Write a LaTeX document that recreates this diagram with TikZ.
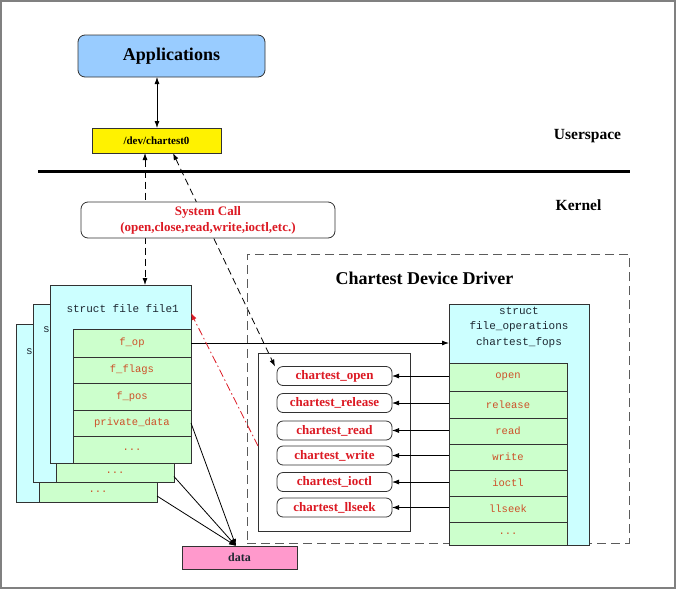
\documentclass[tikz,border=0pt]{standalone}
\usepackage{fontspec}
\setmainfont{Liberation Serif}
\setmonofont{Liberation Mono}
\usetikzlibrary{arrows.meta,calc}
\pgfdeclarelayer{bg}
\pgfsetlayers{bg,main}
\definecolor{appblue}{RGB}{153,204,255}
\definecolor{cyanbox}{RGB}{204,255,255}
\definecolor{greenbox}{RGB}{204,255,204}
\definecolor{pinkbox}{RGB}{255,153,204}
\definecolor{redtxt}{RGB}{220,25,35}
\definecolor{fieldtxt}{RGB}{205,80,40}
\definecolor{monotxt}{RGB}{30,40,50}
\definecolor{edge}{RGB}{50,50,50}
\begin{document}
\begin{tikzpicture}[x=1pt,y=-1pt,
  box/.style={draw=edge,line width=0.8pt,inner sep=0pt,outer sep=0pt},
  filebox/.style={box,fill=cyanbox,minimum width=141pt,minimum height=178pt},
  field/.style={box,fill=greenbox,minimum width=118pt,font=\ttfamily\fontsize{10.5}{12}\selectfont,text=fieldtxt},
  pill/.style={box,rounded corners=6pt,fill=white,minimum width=115pt,minimum height=19pt,font=\bfseries\fontsize{13}{14}\selectfont,text=redtxt},
  arr/.style={-{Latex[length=7pt,width=5pt]},line width=0.8pt,draw=black},
  darr/.style={{Latex[length=7pt,width=5pt]}-{Latex[length=7pt,width=5pt]},line width=0.8pt,dash pattern=on 7pt off 4pt},
  lbl/.style={font=\bfseries\fontsize{15.5}{16}\selectfont}
]
\useasboundingbox (0,0) rectangle (676,589);
\draw[line width=2pt,gray] (1,1) rectangle (675,588);

% Userspace / kernel separation
\coordinate (hl) at (38,171);
\coordinate (hr) at (630,171);
\draw[line width=3pt] (hl) -- (hr);
\node[lbl] (us) at (587.5,136) {Userspace};
\node[lbl] (kn) at (578.5,205) {Kernel};

% top part
\node[box,rounded corners=7pt,fill=appblue,minimum width=187pt,minimum height=42pt,font=\bfseries\fontsize{18}{20}\selectfont] (apps) at (171.5,56) {Applications};
\node[box,fill=yellow,minimum width=129pt,minimum height=25pt,font=\bfseries\fontsize{11}{12}\selectfont] (dev) at (156.5,140.5) {/dev/chartest0};
\draw[{Latex[length=7pt,width=5pt]}-{Latex[length=7pt,width=5pt]},line width=0.8pt] (apps.south -| 157,0) -- (dev.north -| 157,0);

\node[box,rounded corners=7pt,fill=white,minimum width=254pt,minimum height=36pt,align=center,text=redtxt,font=\bfseries\fontsize{13}{16}\selectfont] (sys) at (208,220) {System Call\\(open,close,read,write,ioctl,etc.)};

% driver dashed frame
\node[draw=edge!80,line width=1pt,dash pattern=on 9pt off 5pt,minimum width=382pt,minimum height=289pt,inner sep=0pt] (drv) at (438,398.5) {};
\node[font=\bfseries\fontsize{18}{20}\selectfont] (drvt) at (424.5,278) {Chartest Device Driver};

% struct file stack
\node[filebox] (f3) at (86.5,413) {};
\node[font=\ttfamily\fontsize{11}{12}\selectfont,text=monotxt] (f3t) at (29.5,352) {s};
\node[field,minimum height=20pt] (f3d) at (98,492) {...};
\node[filebox] (f2) at (103.5,393) {};
\node[font=\ttfamily\fontsize{11}{12}\selectfont,text=monotxt] (f2t) at (46.5,330) {s};
\node[field,minimum height=19pt] (f2d) at (115,472.5) {...};
\node[filebox] (f1) at (120.5,374) {};
\node[font=\ttfamily\fontsize{11}{12}\selectfont,text=monotxt,anchor=west] (f1t) at (63,309) {struct file file1};
\node[field,minimum height=28pt] (fop) at (132,343) {f\_op};
\node[field,minimum height=26pt] (fflags) at (132,370) {f\_flags};
\node[field,minimum height=27pt] (fpos) at (132,396.5) {f\_pos};
\node[field,minimum height=26pt] (fpriv) at (132,423) {private\_data};
\node[field,minimum height=27pt] (fdots) at (132,449.5) {...};

% file_operations
\node[box,fill=cyanbox,minimum width=140pt,minimum height=241pt] (fops) at (519,424.5) {};
\node[align=center,font=\ttfamily\fontsize{11}{15.5}\selectfont,text=monotxt] (fopst) at (519,327) {struct\\file\_operations\\chartest\_fops};
\node[field,minimum height=28pt] (oopen) at (508,377) {open};
\node[field,minimum height=27pt] (orel) at (508,404.5) {release};
\node[field,minimum height=26pt] (oread) at (508,431) {read};
\node[field,minimum height=26pt] (owrite) at (508,457) {write};
\node[field,minimum height=26pt] (oioctl) at (508,483) {ioctl};
\node[field,minimum height=26pt] (ollseek) at (508,509) {llseek};
\node[field,minimum height=23pt] (odots) at (508,533.5) {...};

% function box
\node[box,minimum width=152pt,minimum height=178pt] (funcs) at (334,442) {};
\node[pill] (popen) at (334.5,376) {chartest\_open};
\node[pill] (prel) at (334.5,403) {chartest\_release};
\node[pill] (pread) at (334.5,430.5) {chartest\_read};
\node[pill] (pwrite) at (334.5,455.5) {chartest\_write};
\node[pill] (pioctl) at (334.5,482) {chartest\_ioctl};
\node[pill] (pllseek) at (334.5,507.5) {chartest\_llseek};

% data
\node[box,fill=pinkbox,minimum width=115pt,minimum height=23pt,font=\bfseries\fontsize{12}{13}\selectfont,text=monotxt] (data) at (239.5,557.5) {data};

% connectors
\draw[arr] (popen.east -| oopen.west) -- (popen.east);
\draw[arr] (prel.east -| orel.west) -- (prel.east);
\draw[arr] (pread.east -| oread.west) -- (pread.east);
\draw[arr] (pwrite.east -| owrite.west) -- (pwrite.east);
\draw[arr] (pioctl.east -| oioctl.west) -- (pioctl.east);
\draw[arr] (pllseek.east -| ollseek.west) -- (pllseek.east);
\draw[arr] (fop.east) -- (fop.east -| fops.west);
\draw[arr] (fpriv.east) -- ([xshift=-3.5pt]data.north);
\draw[arr] ([yshift=-4pt]f2d.east) -- ([xshift=-3.5pt]data.north);
\draw[arr] ([yshift=-4pt]f3d.east) -- ([xshift=-3.5pt]data.north);
\draw[arr,draw=redtxt,dash pattern=on 8pt off 3pt on 1.5pt off 3pt] ([yshift=-4pt]funcs.west) -- ([yshift=-28pt]f1.north east);
\begin{pgfonlayer}{bg}
\draw[darr] (dev.south -| 145,0) -- (f1.north -| 145,0);
\draw[darr] ([xshift=16.5pt]dev.south) -- ([xshift=-2pt]popen.north west);
\end{pgfonlayer}
\end{tikzpicture}
\end{document}
